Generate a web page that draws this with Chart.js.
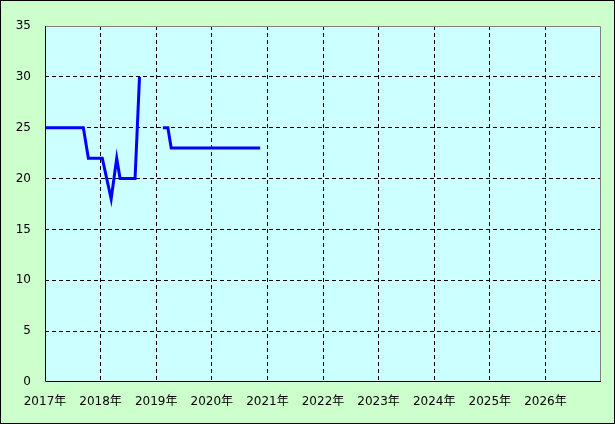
<!DOCTYPE html>
<html>
<head>
<meta charset="utf-8">
<script src="https://cdn.jsdelivr.net/npm/chart.js@4"></script>
<style>
  html, body { margin: 0; padding: 0; background: #ccffcc; }
  #wrap { width: 615px; height: 424px; position: relative; }
</style>
</head>
<body>
<div id="wrap"><canvas id="chart"></canvas></div>
<script>
// dates as fractional years, null value = gap in the line
const dates  = [2017.0, 2017.69, 2017.78, 2018.03, 2018.19, 2018.29, 2018.35, 2018.62, 2018.70, 2018.9, 2019.12, 2019.21, 2019.27, 2020.87];
const values = [25, 25, 22, 22, 18, 22, 20, 20, 30, null, 25, 25, 23, 23];
const yearTicks = [2017, 2018, 2019, 2020, 2021, 2022, 2023, 2024, 2025, 2026];

const points = dates.map((d, i) => ({ x: d, y: values[i] }));

// backgrounds + borders
const frame = {
    id: 'frame',
    beforeDraw(chart) {
        const c = chart.ctx, a = chart.chartArea;
        c.save();
        c.fillStyle = '#ccffcc';
        c.fillRect(0, 0, chart.width, chart.height);
        c.fillStyle = '#ccffff';
        c.fillRect(a.left, a.top, a.right - a.left, a.bottom - a.top);
        c.restore();
    },
    afterDraw(chart) {
        const c = chart.ctx, a = chart.chartArea;
        c.save();
        c.lineWidth = 1;
        c.strokeStyle = '#808080';
        c.beginPath();
        c.moveTo(a.left, a.top + 0.5); c.lineTo(a.right - 0.5, a.top + 0.5); c.lineTo(a.right - 0.5, a.bottom);
        c.stroke();
        c.strokeStyle = '#000000';
        c.beginPath();
        c.moveTo(a.left + 0.5, a.top); c.lineTo(a.left + 0.5, a.bottom - 0.5); c.lineTo(a.right, a.bottom - 0.5);
        c.stroke();
        c.strokeRect(0.5, 0.5, chart.width - 1, chart.height - 1);
        c.restore();
    }
};

const font = { family: "'DejaVu Sans', 'Noto Sans CJK JP', sans-serif", size: 12 };

new Chart(document.getElementById('chart'), {
    type: 'line',
    data: {
        datasets: [{
            data: points,
            borderColor: '#0000ff',
            borderWidth: 3,
            pointRadius: 0,
            tension: 0,
            spanGaps: false,
            fill: false
        }]
    },
    options: {
        responsive: true,
        maintainAspectRatio: false,
        animation: false,
        events: [],
        layout: { padding: { top: 26, right: 14, left: 0, bottom: 0 } },
        plugins: { legend: { display: false }, tooltip: { enabled: false } },
        scales: {
            x: {
                type: 'linear',
                min: 2017,
                max: 2027,
                afterFit: s => { s.height = 42; },
                afterBuildTicks: s => { s.ticks = yearTicks.concat([2027]).map(v => ({ value: v })); },
                border: { display: false, dash: [4, 3] },
                grid: {
                    color: ctx => (ctx.tick && (ctx.tick.value === 2017 || ctx.tick.value === 2027)) ? 'transparent' : '#000000',
                    lineWidth: 1,
                    drawTicks: false
                },
                ticks: {
                    color: '#000000',
                    font: font,
                    padding: 13,
                    maxRotation: 0,
                    autoSkip: false,
                    callback: v => yearTicks.includes(v) ? v + '年' : ''
                }
            },
            y: {
                min: 0,
                max: 35,
                afterFit: s => { s.width = 45; },
                border: { display: false, dash: [4, 3] },
                grid: {
                    color: ctx => (ctx.tick && (ctx.tick.value === 0 || ctx.tick.value === 35)) ? 'transparent' : '#000000',
                    lineWidth: 1,
                    drawTicks: false
                },
                ticks: {
                    stepSize: 5,
                    color: '#000000',
                    font: font,
                    padding: 14
                }
            }
        }
    },
    plugins: [frame]
});
</script>
</body>
</html>
